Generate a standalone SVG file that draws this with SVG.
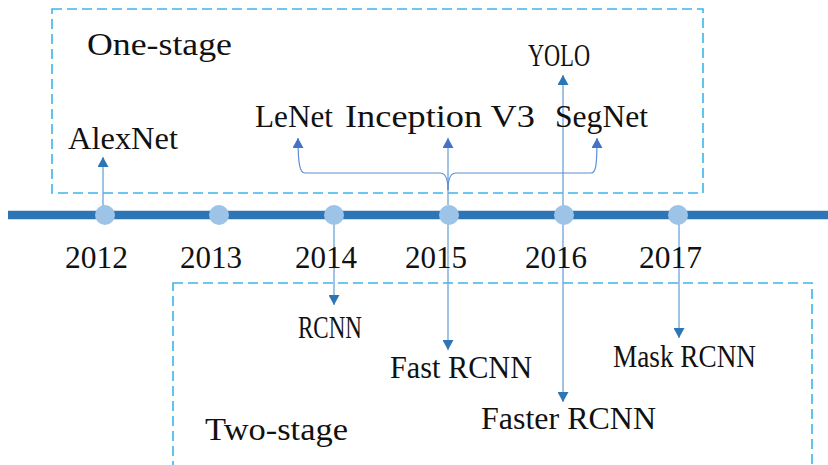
<svg xmlns="http://www.w3.org/2000/svg" width="828" height="465" viewBox="0 0 828 465">
<style>
.box{fill:none;stroke:#3DB5EB;stroke-width:1.6;stroke-dasharray:10 5}
.t{font-family:"Liberation Serif","Times New Roman",serif;font-size:32px;fill:#111}
.ln{fill:none;stroke:#6FA3D8;stroke-width:1.3}
.br{fill:none;stroke:#5B8FD5;stroke-width:1.2}
.dot{fill:#9DC3E6}
</style>
<defs>
<marker id="arr" viewBox="0 0 10 11" markerWidth="10" markerHeight="11" refX="10" refY="5.5" orient="auto" markerUnits="userSpaceOnUse">
<path d="M0,0 L10,5.5 L0,11 z" fill="#2E75B6"/>
</marker>
<marker id="arr2" viewBox="0 0 10 11" markerWidth="10" markerHeight="11" refX="10" refY="5.5" orient="auto" markerUnits="userSpaceOnUse">
<path d="M0,0 L10,5.5 L0,11 z" fill="#4472C4"/>
</marker>
</defs>
<g id="one-stage-box">
<rect class="box" x="52" y="9" width="651" height="184"/>
<text class="t" x="87" y="55" textLength="145" lengthAdjust="spacingAndGlyphs">One-stage</text>
</g>
<g id="two-stage-box">
<rect class="box" x="173" y="283" width="639" height="220"/>
<text class="t" x="205" y="440" textLength="143" lengthAdjust="spacingAndGlyphs">Two-stage</text>
</g>
<g id="timeline">
<line x1="8" y1="215" x2="828" y2="215" stroke="#2E75B6" stroke-width="8.5"/>
</g>
<g id="connectors">
<line class="ln" x1="103" y1="207" x2="103" y2="157" marker-end="url(#arr)"/>
<line class="ln" x1="334" y1="220" x2="334" y2="305" marker-end="url(#arr)"/>
<line class="ln" x1="448" y1="220" x2="448" y2="350" marker-end="url(#arr)"/>
<line class="ln" x1="448" y1="205" x2="448" y2="138" marker-end="url(#arr2)"/>
<line class="ln" x1="563" y1="210" x2="563" y2="75" marker-end="url(#arr)"/>
<line class="ln" x1="563" y1="220" x2="563" y2="402" marker-end="url(#arr)"/>
<line class="ln" x1="679" y1="220" x2="679" y2="338" marker-end="url(#arr)"/>
<path class="br" d="M448,190 C448,180 446,173 440,173 L305,173 C300,173 298,165 298,138" marker-end="url(#arr2)"/>
<path class="br" d="M448,190 C448,180 450,173 456,173 L591,173 C596,173 597,165 597,138" marker-end="url(#arr2)"/>
</g>
<g id="y2012"><circle class="dot" cx="105" cy="215" r="10"/><text class="t" x="65" y="268" textLength="63" lengthAdjust="spacingAndGlyphs">2012</text></g>
<g id="y2013"><circle class="dot" cx="219" cy="215" r="10"/><text class="t" x="180" y="268" textLength="62" lengthAdjust="spacingAndGlyphs">2013</text></g>
<g id="y2014"><circle class="dot" cx="334" cy="215" r="10"/><text class="t" x="295" y="268" textLength="62" lengthAdjust="spacingAndGlyphs">2014</text></g>
<g id="y2015"><circle class="dot" cx="449" cy="215" r="10"/><text class="t" x="405" y="268" textLength="62" lengthAdjust="spacingAndGlyphs">2015</text></g>
<g id="y2016"><circle class="dot" cx="564" cy="215" r="10"/><text class="t" x="525" y="268" textLength="62" lengthAdjust="spacingAndGlyphs">2016</text></g>
<g id="y2017"><circle class="dot" cx="678" cy="215" r="10"/><text class="t" x="639" y="268" textLength="63" lengthAdjust="spacingAndGlyphs">2017</text></g>
<g id="alexnet"><text class="t" x="68" y="149" textLength="110" lengthAdjust="spacingAndGlyphs">AlexNet</text></g>
<g id="lenet"><text class="t" x="255" y="127" textLength="78" lengthAdjust="spacingAndGlyphs">LeNet</text></g>
<g id="inception"><text class="t" x="345" y="127" textLength="190" lengthAdjust="spacingAndGlyphs">Inception V3</text></g>
<g id="segnet"><text class="t" x="555" y="127" textLength="93" lengthAdjust="spacingAndGlyphs">SegNet</text></g>
<g id="yolo"><text class="t" x="528" y="66" textLength="62" lengthAdjust="spacingAndGlyphs">YOLO</text></g>
<g id="rcnn"><text class="t" x="298" y="338" textLength="64" lengthAdjust="spacingAndGlyphs">RCNN</text></g>
<g id="fast-rcnn"><text class="t" x="390" y="378" textLength="142" lengthAdjust="spacingAndGlyphs">Fast RCNN</text></g>
<g id="mask-rcnn"><text class="t" x="613" y="367" textLength="143" lengthAdjust="spacingAndGlyphs">Mask RCNN</text></g>
<g id="faster-rcnn"><text class="t" x="481" y="429" textLength="175" lengthAdjust="spacingAndGlyphs">Faster RCNN</text></g>
</svg>
